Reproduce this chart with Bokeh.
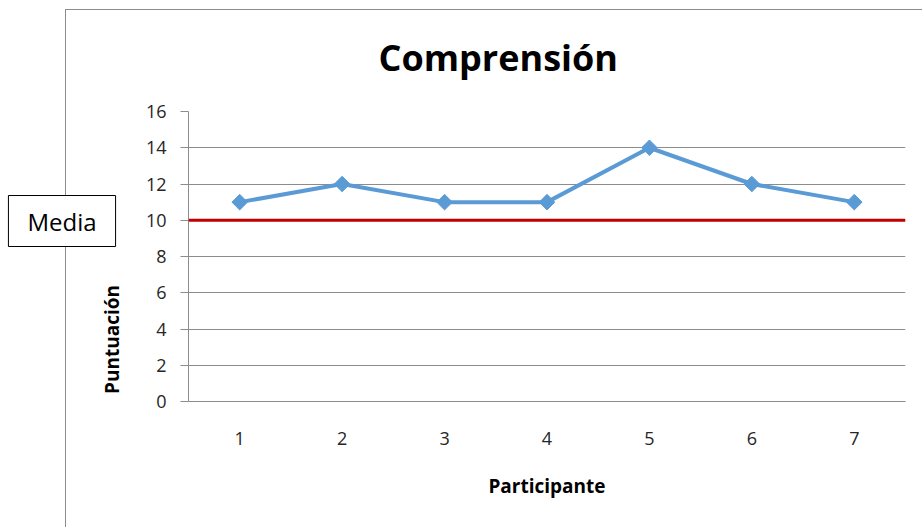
from bokeh.plotting import figure
from bokeh.layouts import row
from bokeh.models import Span, Label, FixedTicker, Title
from bokeh.embed import file_html
from bokeh.resources import INLINE

participants = ["1", "2", "3", "4", "5", "6", "7"]
scores = [11, 12, 11, 11, 14, 12, 11]
media = 10
y_ticks = [0, 2, 4, 6, 8, 10, 12, 14, 16]
title_text = "Comprensión"
x_label = "Participante"
y_label = "Puntuación"
media_label = "Media"

FONT = "Open Sans"
H = 527
FB = 401           # frame bottom in canvas pixels (row aligns both frames)
LW = 130           # width of the left strip (Media box + y title)
MW = 922 - LW      # width of the main chart
BORDER = "#8c8c8c"
LINE = f"linear-gradient({BORDER},{BORDER})"

# ---- left strip: holds the "Media" box and the vertical axis title ----
left = figure(width=LW, height=H, output_backend="svg", toolbar_location=None,
              min_border=0, x_axis_type=None, y_axis_type=None)
left.title = None
left.outline_line_color = None
left.grid.visible = False
left.background_fill_alpha = 0
left.border_fill_alpha = 0
left.styles = {
    "background": (f"{LINE} 65px 9px / 1px 700px no-repeat, "
                   f"{LINE} 65px 9px / 200px 1px no-repeat, white")
}
left.add_layout(Label(x=111, y=FB - 339, x_units="screen", y_units="screen", text=y_label,
                      angle=90, angle_units="deg", text_font=FONT, text_font_style="bold",
                      text_font_size="19px", text_align="center", text_baseline="middle",
                      text_color="black"))
left.add_layout(Label(x=61.5, y=FB - 220.5, x_units="screen", y_units="screen", text=media_label,
                      text_font=FONT, text_font_size="24px", text_align="center",
                      text_baseline="middle", text_color="black",
                      background_fill_color="white", border_line_color="black",
                      padding=[19, 19, 9, 9]))

# ---- main chart ----
p = figure(width=MW, height=H, x_range=participants, y_range=(0, 16),
           output_backend="svg", toolbar_location=None,
           min_border_left=188 - LW, min_border_right=17, min_border_top=111, min_border_bottom=H - FB)
p.title = Title(text=title_text, align="left", offset=190, standoff=59,
                text_font=FONT, text_font_style="bold", text_font_size="36px", text_color="black")
p.outline_line_color = None
p.background_fill_color = "white"
p.border_fill_alpha = 0
p.styles = {"background": f"{LINE} 0px 9px / 1000px 1px no-repeat, white"}

p.xgrid.grid_line_color = None
p.ygrid.grid_line_color = BORDER
p.ygrid.ticker = FixedTicker(ticks=y_ticks)
p.yaxis.ticker = FixedTicker(ticks=y_ticks)

for ax in (p.xaxis[0], p.yaxis[0]):
    ax.axis_line_color = BORDER
    ax.major_tick_line_color = BORDER
    ax.minor_tick_line_color = None
    ax.major_label_text_font = FONT
    ax.major_label_text_font_size = "18px"
    ax.major_label_text_color = "#262626"
p.yaxis.major_tick_out = 8
p.yaxis.major_tick_in = 0
p.yaxis.major_label_standoff = 14
p.xaxis.major_tick_out = 0
p.xaxis.major_tick_in = 0
p.xaxis.major_label_standoff = 30
p.xaxis.axis_label = x_label
p.xaxis.axis_label_text_font = FONT
p.xaxis.axis_label_text_font_style = "bold"
p.xaxis.axis_label_text_font_size = "19px"
p.xaxis.axis_label_text_color = "black"
p.xaxis.axis_label_standoff = 25

p.add_layout(Span(location=media, dimension="width", line_color="#c00000", line_width=3))

p.line(participants, scores, line_color="#5b9bd5", line_width=4)
p.scatter(participants, scores, marker="square", angle=45, angle_units="deg", size=11,
          fill_color="#5b9bd5", line_color="#5b9bd5")

layout = row(left, p, spacing=0)
open("out.html", "w").write(file_html(layout, INLINE))
